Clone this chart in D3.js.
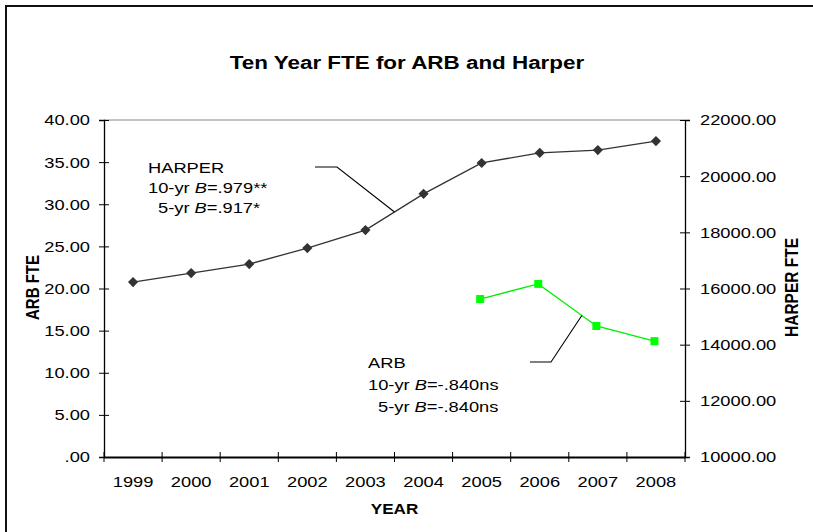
<!DOCTYPE html>
<html>
<head>
<meta charset="utf-8">
<script src="https://cdn.jsdelivr.net/npm/d3@7"></script>
<style>
  html, body { margin: 0; padding: 0; background: #fff; }
  svg { display: block; font-family: "Liberation Sans", Arial, sans-serif; }
</style>
</head>
<body>
<svg id="chart" width="813" height="532"></svg>
<script>
const years = ["1999","2000","2001","2002","2003","2004","2005","2006","2007","2008"];
const harperFTE = [16230, 16550, 16870, 17440, 18080, 19370, 20470, 20830, 20930, 21250];
const arbYears = ["2005","2006","2007","2008"];
const arbFTE = [18.75, 20.55, 15.55, 13.75];
const leftTicks = [0, 5, 10, 15, 20, 25, 30, 35, 40];
const rightTicks = [10000, 12000, 14000, 16000, 18000, 20000, 22000];

const SX = 1.18; // horizontal text stretch seen in the reference
const svg = d3.select("#chart");
const L = 104, R = 685, T = 120, B = 457;

// outer frame
svg.append("rect").attr("x", 6).attr("y", 6).attr("width", 830).attr("height", 560)
  .attr("fill", "none").attr("stroke", "#111").attr("stroke-width", 2);

function stretchedText(x0, y0, size, bold, anchor, txt) {
  return svg.append("text").attr("transform", `translate(${x0},${y0}) scale(${SX},1)`)
    .attr("text-anchor", anchor).attr("font-size", size)
    .attr("font-weight", bold ? "bold" : null).text(txt);
}

stretchedText(407, 69, 19, true, "middle", "Ten Year FTE for ARB and Harper");

const x = d3.scaleBand().domain(years).range([L, R]);
const yL = d3.scaleLinear().domain([0, 40]).range([B, T]);
const yR = d3.scaleLinear().domain([10000, 22000]).range([B, T]);

// plot top border
svg.append("line").attr("x1", L).attr("x2", R).attr("y1", T).attr("y2", T)
  .attr("stroke", "#888").attr("stroke-width", 1);

function styleAxis(g) {
  g.selectAll("path").attr("stroke", "#000").attr("stroke-width", 1.3);
  g.selectAll("line").attr("stroke", "#000").attr("stroke-width", 1);
  g.selectAll("text").attr("font-size", 15.5).attr("fill", "#000")
    .attr("font-family", "Liberation Sans, Arial, sans-serif")
    .each(function () {
      const t = d3.select(this);
      const xv = +t.attr("x") || 0;
      t.attr("x", xv / SX).attr("transform", `scale(${SX},1)`);
    });
}

const fmtL = d => d === 0 ? ".00" : d3.format(".2f")(d);
const gL = svg.append("g").attr("transform", `translate(${L},0)`)
  .call(d3.axisLeft(yL).tickValues(leftTicks).tickFormat(fmtL).tickSizeOuter(0).tickSize(5).tickPadding(9));
gL.selectAll(".tick line").attr("x1", 5).attr("x2", -5);
styleAxis(gL);

const gR = svg.append("g").attr("transform", `translate(${R},0)`)
  .call(d3.axisRight(yR).tickValues(rightTicks).tickFormat(d3.format(".2f")).tickSizeOuter(0).tickSize(5).tickPadding(10));
gR.selectAll(".tick line").attr("x1", -5).attr("x2", 5);
styleAxis(gR);

const xTickScale = d3.scaleLinear().domain([0, years.length]).range([L, R]);
const gX = svg.append("g").attr("transform", `translate(0,${B})`)
  .call(d3.axisBottom(x).tickSize(0).tickSizeOuter(0).tickPadding(19));
styleAxis(gX);
gX.select("path").attr("stroke-width", 1.8);
// band-boundary ticks
gX.selectAll(".bt").data(d3.range(years.length + 1)).join("line").attr("class", "bt")
  .attr("x1", i => xTickScale(i)).attr("x2", i => xTickScale(i))
  .attr("y1", -5).attr("y2", 5).attr("stroke", "#000");

// axis titles (rotated, glyphs widened horizontally on screen)
svg.append("text").attr("transform", `translate(39,${(T + B) / 2 - 1}) rotate(-90) scale(1,${SX})`)
  .attr("text-anchor", "middle").attr("font-size", 15).attr("font-weight", "bold").text("ARB FTE");
svg.append("text").attr("transform", `translate(798,${(T + B) / 2 - 1}) rotate(-90) scale(1,${SX})`)
  .attr("text-anchor", "middle").attr("font-size", 15.5).attr("font-weight", "bold").text("HARPER FTE");
stretchedText((L + R) / 2, 514, 14.5, true, "middle", "YEAR");

const cx = d => x(d) + x.bandwidth() / 2;

// HARPER line
const hPts = years.map((yr, i) => [cx(yr), yR(harperFTE[i])]);
svg.append("path").attr("d", d3.line()(hPts)).attr("fill", "none").attr("stroke", "#333").attr("stroke-width", 1.3);
svg.selectAll(".dia").data(hPts).join("path").attr("class", "dia")
  .attr("transform", d => `translate(${d[0]},${d[1]}) rotate(45)`)
  .attr("d", "M-3.6,-3.6H3.6V3.6H-3.6Z").attr("fill", "#333");

// ARB line
const aPts = arbYears.map((yr, i) => [cx(yr) - 1.5, yL(arbFTE[i])]);
svg.append("path").attr("d", d3.line()(aPts)).attr("fill", "none").attr("stroke", "#00ee00").attr("stroke-width", 1.3);
svg.selectAll(".sq").data(aPts).join("rect").attr("class", "sq")
  .attr("x", d => d[0] - 4).attr("y", d => d[1] - 4).attr("width", 8).attr("height", 8).attr("fill", "#00ff00");

// leader lines
const lerp = (a, b, t) => [a[0] + (b[0] - a[0]) * t, a[1] + (b[1] - a[1]) * t];
const hEnd = lerp(hPts[4], hPts[5], 0.5);
svg.append("path").attr("d", d3.line()([[315, 167], [337, 167], hEnd]))
  .attr("fill", "none").attr("stroke", "#000").attr("stroke-width", 1.1);
const aEnd = lerp(aPts[1], aPts[2], 0.75);
svg.append("path").attr("d", d3.line()([[530, 362], [551, 362], aEnd]))
  .attr("fill", "none").attr("stroke", "#000").attr("stroke-width", 1.1);

// annotations
function annot(x0, y0, dy, lines) {
  const t = svg.append("text").attr("transform", `translate(${x0},${y0}) scale(${SX},1)`)
    .attr("font-size", 15.5).attr("fill", "#000");
  lines.forEach((ln, i) => {
    const tl = t.append("tspan").attr("x", (ln.indent || 0) / SX).attr("y", i * dy);
    ln.parts.forEach(p => {
      tl.append("tspan").attr("font-style", p.it ? "italic" : null).text(p.t);
    });
  });
}
annot(148, 173, 20, [
  { parts: [{ t: "HARPER" }] },
  { parts: [{ t: "10-yr " }, { t: "B", it: true }, { t: "=.979**" }] },
  { indent: 10, parts: [{ t: "5-yr " }, { t: "B", it: true }, { t: "=.917*" }] }
]);
annot(368, 368, 22, [
  { parts: [{ t: "ARB" }] },
  { parts: [{ t: "10-yr " }, { t: "B", it: true }, { t: "=-.840ns" }] },
  { indent: 10, parts: [{ t: "5-yr " }, { t: "B", it: true }, { t: "=-.840ns" }] }
]);
</script>
</body>
</html>
